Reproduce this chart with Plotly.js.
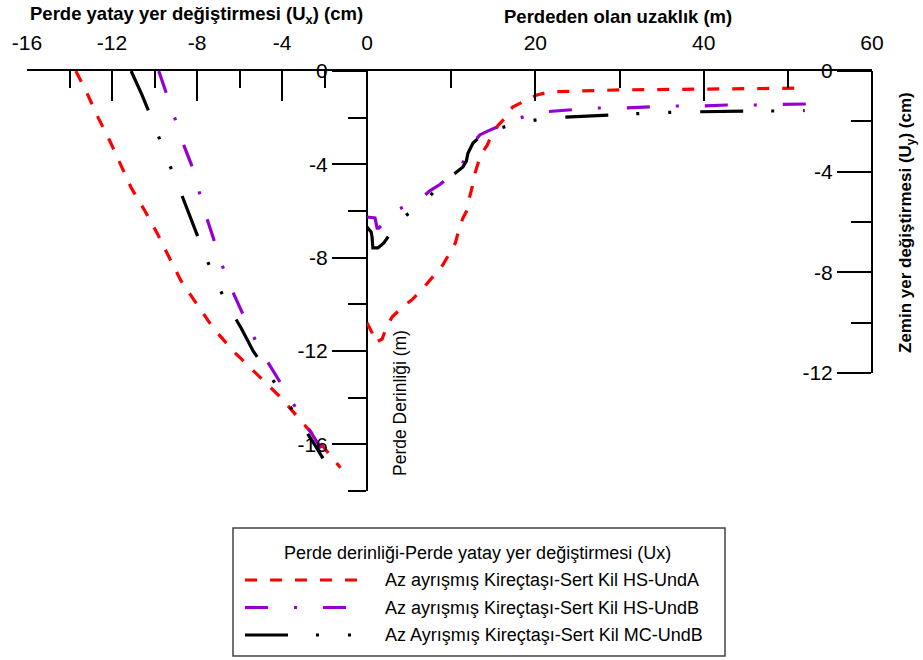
<!DOCTYPE html>
<html><head><meta charset="utf-8">
<script src="https://cdn.plot.ly/plotly-3.0.1.min.js"></script>
<style>html,body{margin:0;padding:0;background:#fff}</style>
</head><body><div id="chart" style="width:923px;height:660px"></div>
<script>
// ---- Left panel: wall depth (m) vs horizontal wall displacement Ux (cm)
const depthA = [0,-1,-2,-3,-4,-5,-6,-7,-8,-9,-10,-11,-12,-13,-14,-15,-16,-17];
const uxHSUndA = [-13.7,-13.15,-12.65,-12.1,-11.6,-11.1,-10.45,-9.85,-9.3,-8.75,-8.0,-7.25,-6.3,-5.15,-4.05,-3.1,-2.15,-1.25];
const depthB = [0,-1,-2,-3,-4,-5,-6,-7,-8,-9,-10,-11,-12,-13,-14,-15,-16.2];
const uxHSUndB = [-9.8,-9.41,-9.05,-8.7,-8.27,-7.95,-7.65,-7.29,-6.94,-6.55,-6.07,-5.55,-4.99,-4.33,-3.63,-2.97,-2.15];
const depthC = [0,-1,-2,-3,-4,-5,-6,-7,-8,-9,-10,-11,-12,-13,-14,-15,-16,-16.6];
const uxMCUndB = [-11.1,-10.6,-10.15,-9.74,-9.3,-8.85,-8.42,-8.02,-7.58,-7.1,-6.59,-5.93,-5.36,-4.6,-3.88,-3.15,-2.47,-2.07];

// ---- Right panel: distance from wall (m) vs ground displacement Uy (cm)
const distA = [0,0.6,0.95,1.8,2.4,3.0,4.2,5.3,6.5,7.2,8.3,9.0,9.9,10.5,11.0,11.4,11.9,12.1,12.5,12.7,13.2,13.5,14.3,14.7,15.6,16.4,17.3,18.5,20.2,21.7,24.9,30,40,52];
const uyHSUndA = [-10.0,-10.4,-10.8,-10.65,-10.1,-9.77,-9.38,-9.1,-8.7,-8.42,-7.99,-7.71,-7.19,-6.83,-6.2,-5.84,-5.52,-5.13,-4.61,-4.21,-3.66,-3.34,-2.94,-2.62,-2.15,-1.87,-1.43,-1.23,-0.95,-0.83,-0.79,-0.75,-0.72,-0.68];
const distB = [0,0.95,1.2,1.4,3.6,6.5,7.5,8.7,11.0,12.0,12.6,13.4,14.4,17.6,20.8,23.8,27.1,30.4,33.3,36.6,39.9,42.8,46.2,52.4];
const uyHSUndB = [-5.8,-5.84,-6.24,-6.24,-5.52,-5.05,-4.75,-4.5,-3.85,-3.3,-2.86,-2.54,-2.38,-1.91,-1.63,-1.55,-1.47,-1.47,-1.43,-1.39,-1.39,-1.35,-1.35,-1.31];
const distC = [0,0.5,0.6,0.7,1.3,2.0,3.9,6.65,9.0,11.4,11.8,12.0,12.6,13.8,14.4,17.8,21.4,26.2,29.8,33.6,37.2,42.3,45.7,49.5,52];
const uyMCUndB = [-6.2,-6.4,-6.6,-7.03,-7.03,-6.83,-5.92,-5.24,-4.45,-3.81,-3.58,-3.26,-2.86,-2.5,-2.42,-2.07,-1.87,-1.79,-1.71,-1.67,-1.63,-1.59,-1.59,-1.59,-1.57];

// ---- Tick labels
const uxTicks = [-16,-12,-8,-4,0];
const uxTickText = ['-16','-12','-8','-4','0'];
const depthTicks = [-16,-12,-8,-4,0];
const depthTickText = ['-16','-12','-8','-4','0'];
const distTicks = [20,40,60];
const distTickText = ['20','40','60'];
const uyTicks = [-12,-8,-4,0];
const uyTickText = ['-12','-8','-4','0'];

const legendTitle = 'Perde derinliği-Perde yatay yer değiştirmesi (Ux)';
const seriesNames = ['Az ayrışmış Kireçtaşı-Sert Kil HS-UndA','Az ayrışmış Kireçtaşı-Sert Kil HS-UndB','Az Ayrışmış Kireçtaşı-Sert Kil MC-UndB'];

const W = 923, H = 660;
const px = x => x / W, py = y => 1 - y / H;
const FONT = 'Liberation Sans, Arial, sans-serif';
const styles = [
  {color:'#ff0000', dash:'12px,13px'},
  {color:'#9400d3', dash:'23px,26px,3px,26px'},
  {color:'#000000', dash:'43px,28px,3px,29px,3px,29px'}
];
const LW = 3.2;

const traces = [
  {x:uxHSUndA, y:depthA, xaxis:'x', yaxis:'y', name:seriesNames[0]},
  {x:uxHSUndB, y:depthB, xaxis:'x', yaxis:'y', name:seriesNames[1]},
  {x:uxMCUndB, y:depthC, xaxis:'x', yaxis:'y', name:seriesNames[2]},
  {x:distA, y:uyHSUndA, xaxis:'x2', yaxis:'y2', name:seriesNames[0]},
  {x:distB, y:uyHSUndB, xaxis:'x2', yaxis:'y2', name:seriesNames[1]},
  {x:distC, y:uyMCUndB, xaxis:'x2', yaxis:'y2', name:seriesNames[2]}
].map((t, i) => Object.assign(t, {
  type:'scatter', mode:'lines', hoverinfo:'skip', showlegend:false,
  line:{color:styles[i%3].color, dash:styles[i%3].dash, width:LW}
}));

const tickFont = {family:FONT, size:21, color:'#000'};
const common = {showgrid:false, zeroline:false, showline:true, linecolor:'#000', linewidth:2,
  tickcolor:'#000', tickwidth:2, tickfont:tickFont, fixedrange:true, automargin:false, tickmode:'array'};

const layout = {
  width:W, height:H, margin:{l:0,r:0,t:0,b:0,pad:0},
  paper_bgcolor:'#fff', plot_bgcolor:'rgba(0,0,0,0)', showlegend:false,
  font:{family:FONT, color:'#000'},
  xaxis:Object.assign({}, common, {domain:[px(27), px(367)], range:[-16,0], side:'top', anchor:'y',
    ticks:'inside', ticklen:30, tickvals:uxTicks, ticktext:uxTickText, ticklabelstandoff:11,
    minor:{ticks:'inside', ticklen:17, dtick:2, tick0:0, tickcolor:'#000', tickwidth:2}}),
  yaxis:Object.assign({}, common, {domain:[py(491), py(71)], range:[-18,0], anchor:'free', position:px(367), side:'left',
    ticks:'outside', ticklen:34, tickvals:depthTicks, ticktext:depthTickText,
    minor:{ticks:'outside', ticklen:18, dtick:2, tick0:0, tickcolor:'#000', tickwidth:2}}),
  xaxis2:Object.assign({}, common, {domain:[px(367), px(872)], range:[0,60], side:'top', anchor:'y2',
    ticks:'inside', ticklen:30, tickvals:distTicks, ticktext:distTickText, ticklabelstandoff:11,
    minor:{ticks:'inside', ticklen:17, dtick:10, tick0:0, tickcolor:'#000', tickwidth:2}}),
  yaxis2:Object.assign({}, common, {domain:[py(373), py(71)], range:[-12,0], anchor:'free', position:px(872), side:'left',
    ticks:'outside', ticklen:34, tickvals:uyTicks, ticktext:uyTickText,
    minor:{ticks:'outside', ticklen:20, dtick:2, tick0:0, tickcolor:'#000', tickwidth:2}}),
  annotations:[
    {text:'<b>Perde yatay yer değiştirmesi (U<sub>x</sub>) (cm)</b>', x:px(196), y:py(15), xref:'paper', yref:'paper',
      xanchor:'center', yanchor:'middle', showarrow:false, font:{family:FONT, size:18.5, color:'#000'}},
    {text:'<b>Perdeden olan uzaklık (m)</b>', x:px(618), y:py(16), xref:'paper', yref:'paper',
      xanchor:'center', yanchor:'middle', showarrow:false, font:{family:FONT, size:18.5, color:'#000'}},
    {text:'<b>Zemin yer değiştirmesi (U<sub>y</sub>) (cm)</b>', x:px(907), y:py(223), xref:'paper', yref:'paper',
      xanchor:'center', yanchor:'middle', textangle:-90, showarrow:false, font:{family:FONT, size:17, color:'#000'}},
    {text:'Perde Derinliği (m)', x:px(400), y:py(403), xref:'paper', yref:'paper',
      xanchor:'center', yanchor:'middle', textangle:-90, showarrow:false, font:{family:FONT, size:17.5, color:'#000'}},
    {text:legendTitle, x:px(477), y:py(553), xref:'paper', yref:'paper',
      xanchor:'center', yanchor:'middle', showarrow:false, font:{family:FONT, size:18, color:'#000'}}
  ].concat(seriesNames.map((n, i) => ({text:n, x:px(383), y:py(580 + i*27.5), xref:'paper', yref:'paper',
      xanchor:'left', yanchor:'middle', showarrow:false, font:{family:FONT, size:18, color:'#000'}}))),
  shapes:[
    {type:'rect', xref:'paper', yref:'paper', x0:px(233), x1:px(725), y0:py(528), y1:py(656),
      line:{color:'#444', width:1.5}, fillcolor:'rgba(0,0,0,0)'}
  ].concat(styles.map((s, i) => ({type:'line', xref:'paper', yref:'paper', x0:px(245), x1:px(360),
      y0:py(580 + i*27.5), y1:py(580 + i*27.5), line:{color:s.color, dash:s.dash, width:LW}})))
};

Plotly.newPlot('chart', traces, layout, {staticPlot:true, displayModeBar:false});
</script></body></html>
